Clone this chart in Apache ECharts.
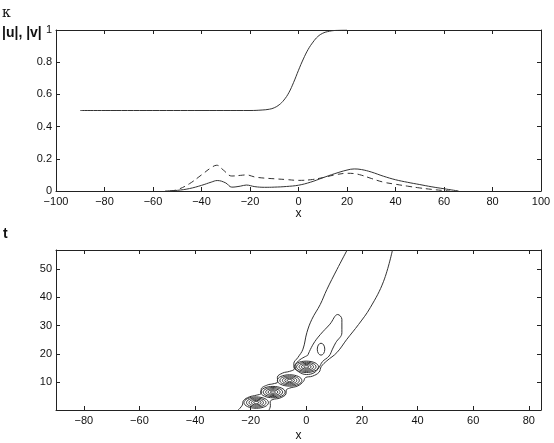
<!DOCTYPE html>
<html>
<head>
<meta charset="utf-8">
<script src="https://cdn.jsdelivr.net/npm/echarts@6/dist/echarts.min.js"></script>
<style>
html,body{margin:0;padding:0;background:#fff;}
#c{width:554px;height:443px;}
</style>
</head>
<body>
<div id="c"></div>
<script>
// ---- top panel data ----
const kappaX = [-90, -20, -15, -12, -10, -8, -6, -4, -2, 0, 2, 4, 6, 8, 10, 12, 15, 20];
const kappaY = [0.5, 0.5, 0.503, 0.508, 0.517, 0.535, 0.565, 0.61, 0.675, 0.75, 0.82, 0.88, 0.925, 0.96, 0.98, 0.99, 0.997, 1];

const uX = [-55, -50, -45, -40, -36, -33.5, -30, -27.5, -24, -21.5, -18, -14, -10, -5, 0, 5, 10, 15, 20, 23, 26, 30, 35, 40, 45, 50, 55, 60, 66];
const uY = [0, 0.004, 0.015, 0.035, 0.055, 0.065, 0.05, 0.024, 0.03, 0.037, 0.027, 0.023, 0.024, 0.028, 0.036, 0.055, 0.082, 0.108, 0.13, 0.137, 0.133, 0.118, 0.092, 0.07, 0.054, 0.04, 0.026, 0.014, 0];

const vX = [-53, -50, -45, -40, -36, -33.7, -31, -27.5, -24, -21.5, -18, -14, -10, -5, 0, 5, 10, 15, 20, 23, 26, 30, 35, 40, 45, 50, 55, 59, 62.5];
const vY = [0, 0.008, 0.045, 0.1, 0.145, 0.16, 0.13, 0.093, 0.097, 0.1, 0.087, 0.08, 0.076, 0.071, 0.066, 0.07, 0.083, 0.1, 0.11, 0.108, 0.098, 0.078, 0.055, 0.042, 0.03, 0.019, 0.01, 0.004, 0];

// ---- bottom panel (contours) data ----
const outerLeftX = [-24.5, -23, -22.6, -20.5, -18, -16.2, -16.2, -14, -12, -10.3, -10.4, -8.5, -6, -4.3, -4.5, -3, -1.2, 0.2, 2, 5, 7.4, 11, 14.7];
const outerLeftT = [0.3, 2, 3.6, 4.9, 5.5, 6.2, 7.6, 9.1, 9.5, 10.2, 11.8, 13.3, 13.9, 14.8, 16.6, 18.8, 21.7, 27.5, 32.2, 37.4, 42.7, 49.7, 56.6];

const outerRightX = [31, 27.8, 23, 18.8, 14.6, 11, 7.4, 5.4, 4.6, 2.2, -0.3, -1, -3, -6, -7.2, -7.3, -9.5, -12, -13, -12.9, -13.4];
const outerRightT = [56.6, 45.6, 36.3, 30.4, 25.2, 20.5, 17.6, 15.6, 13.6, 12.2, 11.7, 10.4, 8.8, 8.0, 7.3, 6, 4.5, 4.0, 3.2, 1.8, 0.3];

const fingerX = [0.5, 2.5, 5, 8.5, 11.3, 12.8, 12.8, 10.6, 9.4, 8.2, 5.8, 4.6, 2.8, 0, -2.8, -4, -2.8, 0.5];
const fingerT = [19.5, 23.5, 26.8, 30.5, 33.9, 32.2, 27.5, 24, 21.7, 19.3, 17.3, 15.3, 13.4, 12.8, 13.8, 15.5, 17.6, 19.5];

const blobX = [-18, -12, -6, 0];
const blobT = [2.9, 6.6, 10.7, 15.5];
const ringRx = [4.4, 3.5, 2.6, 1.75, 0.9];
const ringRy = [2.0, 1.6, 1.2, 0.8, 0.4];

const islandX = [5.3];
const islandT = [21.7];
const islandRx = [1.35];
const islandRy = [2.1];

// tick labels
const topXTicks = [-100, -80, -60, -40, -20, 0, 20, 40, 60, 80, 100];
const topYTicks = [0, 0.2, 0.4, 0.6, 0.8, 1];
const botXTicks = [-80, -60, -40, -20, 0, 20, 40, 60, 80];
const botTTicks = [10, 20, 30, 40, 50];

function zip(a, b) { return a.map((v, i) => [v, b[i]]); }

const ellipseData = [];
blobX.forEach((bx, i) => {
  ringRx.forEach((rx, j) => {
    ellipseData.push([bx, blobT[i], rx, ringRy[j]]);
  });
});
islandX.forEach((ix, i) => ellipseData.push([ix, islandT[i], islandRx[i], islandRy[i]]));

const FONT = 'Liberation Sans, Arial, Helvetica, sans-serif';
const LINE = '#333';
const AX = '#222';
const minus = v => String(v).replace('-', '\u2212');

function xAx(grid, pos, min, max, labels, name, gap) {
  const a = {
    type: 'value', gridIndex: grid, position: pos, min: min, max: max,
    axisLine: { show: true, onZero: false, lineStyle: { color: AX, width: 1 } },
    axisTick: { show: true, inside: true, length: 4, lineStyle: { color: AX }, customValues: labels },
    axisLabel: { show: pos === 'bottom', color: '#111', fontSize: 11, fontFamily: FONT, margin: 5, formatter: minus, customValues: labels },
    splitLine: { show: false }
  };
  if (name) {
    a.name = name; a.nameLocation = 'middle'; a.nameGap = gap;
    a.nameTextStyle = { color: '#111', fontSize: 12, fontFamily: FONT };
  }
  return a;
}
function yAx(grid, pos, min, max, labels) {
  return {
    type: 'value', gridIndex: grid, position: pos, min: min, max: max,
    axisLine: { show: true, onZero: false, lineStyle: { color: AX, width: 1 } },
    axisTick: { show: true, inside: true, length: 4, lineStyle: { color: AX }, customValues: labels },
    axisLabel: { show: pos === 'left', color: '#111', fontSize: 11, fontFamily: FONT, margin: 4, customValues: labels },
    splitLine: { show: false }
  };
}

const chart = echarts.init(document.getElementById('c'), null, { renderer: 'canvas' });
chart.setOption({
  backgroundColor: '#fff',
  animation: false,
  grid: [
    { left: 56, top: 30, width: 485, height: 161 },
    { left: 56, top: 250, width: 485, height: 161 }
  ],
  xAxis: [
    xAx(0, 'bottom', -100, 100, topXTicks, 'x', 16),
    xAx(0, 'top', -100, 100, topXTicks),
    xAx(1, 'bottom', -90, 84.4, botXTicks, 'x', 20),
    xAx(1, 'top', -90, 84.4, botXTicks)
  ],
  yAxis: [
    yAx(0, 'left', 0, 1, topYTicks),
    yAx(0, 'right', 0, 1, topYTicks),
    yAx(1, 'left', 0.3, 56.6, botTTicks),
    yAx(1, 'right', 0.3, 56.6, botTTicks)
  ],
  graphic: [
    { type: 'text', left: 2, top: 6, style: { text: '\u03ba', font: '14px "DejaVu Serif", serif', fill: '#111' } },
    { type: 'text', left: 2, top: 26, style: { text: '|u|, |v|', font: 'bold 14px ' + FONT, fill: '#111' } },
    { type: 'text', left: 3, top: 227, style: { text: 't', font: 'bold 14px ' + FONT, fill: '#111' } }
  ],
  series: [
    { type: 'line', xAxisIndex: 0, yAxisIndex: 0, data: zip(kappaX, kappaY), smooth: 0.4, showSymbol: false,
      lineStyle: { color: LINE, width: 1 } },
    { type: 'line', xAxisIndex: 0, yAxisIndex: 0, data: zip(uX, uY), smooth: 0.4, showSymbol: false,
      lineStyle: { color: LINE, width: 1 } },
    { type: 'line', xAxisIndex: 0, yAxisIndex: 0, data: zip(vX, vY), smooth: 0.4, showSymbol: false,
      lineStyle: { color: LINE, width: 1, type: [6, 4] } },
    { type: 'line', xAxisIndex: 2, yAxisIndex: 2, data: zip(outerLeftX, outerLeftT), smooth: 0.4, showSymbol: false,
      lineStyle: { color: LINE, width: 1 } },
    { type: 'line', xAxisIndex: 2, yAxisIndex: 2, data: zip(outerRightX, outerRightT), smooth: 0.4, showSymbol: false,
      lineStyle: { color: LINE, width: 1 } },
    { type: 'line', xAxisIndex: 2, yAxisIndex: 2, data: zip(fingerX, fingerT), smooth: 0.4, showSymbol: false,
      lineStyle: { color: LINE, width: 1 } },
    { type: 'custom', xAxisIndex: 2, yAxisIndex: 2, data: ellipseData, clip: true,
      encode: { x: 0, y: 1 },
      renderItem: function (params, api) {
        const c = api.coord([api.value(0), api.value(1)]);
        const s = api.size([api.value(2), api.value(3)]);
        return { type: 'ellipse', shape: { cx: c[0], cy: c[1], rx: s[0], ry: s[1] },
          style: { fill: 'none', stroke: LINE, lineWidth: 1 } };
      } }
  ]
});
</script>
</body>
</html>
